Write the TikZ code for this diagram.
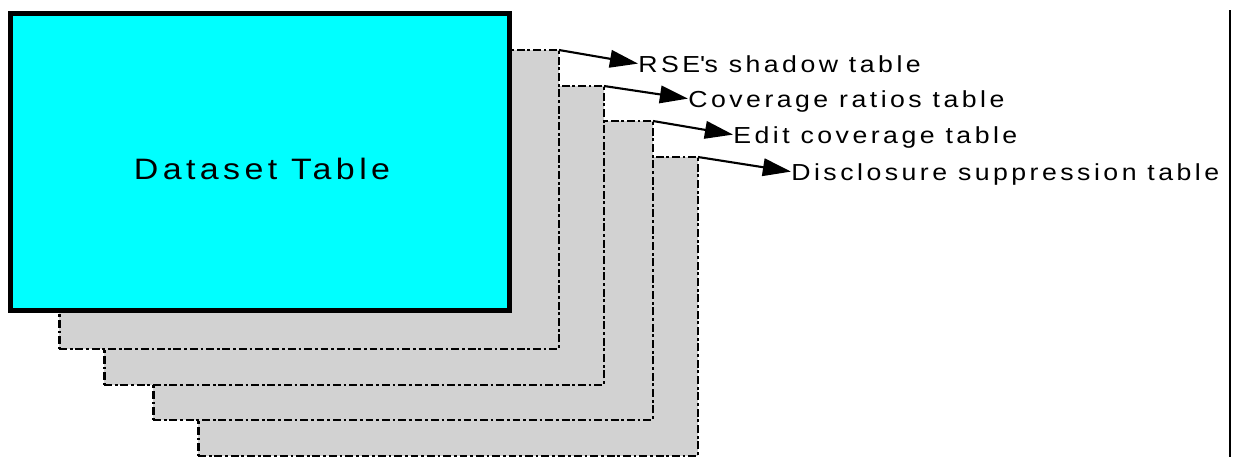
\documentclass[tikz,border=0pt]{standalone}
\usepackage{fontspec}
\usetikzlibrary{arrows.meta}
\newfontfamily\tablefont[FakeStretch=1.15,LetterSpace=15]{Liberation Sans}
\definecolor{datasetCyan}{HTML}{00FFFF}
\definecolor{shadowGray}{HTML}{D2D2D2}

\begin{document}
\begin{tikzpicture}[x=0.02cm,y=-0.02cm,
  shadowbox/.style={draw,fill=shadowGray,line width=1.6pt,dash pattern=on 4.5pt off 1.6pt on 1.6pt off 1.6pt,
    minimum width=10cm,minimum height=5.98cm,anchor=north east,inner sep=0pt,outer sep=0pt},
  tablelabel/.style={anchor=base west,inner sep=0pt,text depth=0pt,font=\tablefont\fontsize{13.2}{16}\selectfont},
  link/.style={-{Triangle[length=16pt,width=10pt]},line width=1.2pt}]
  \useasboundingbox (0,0) rectangle (1247,457);

  % Stacked shadow tables, back to front
  \node[shadowbox] (disclosureBox) at (698,157) {};
  \node[shadowbox] (editBox) at (653,121) {};
  \node[shadowbox] (coverageBox) at (604,86) {};
  \node[shadowbox] (rseBox) at (559,50) {};

  % Dataset table
  \node[draw,fill=datasetCyan,line width=2.8pt,minimum width=9.98cm,minimum height=5.94cm] (dataset) at (260,162) {};
  \node[font=\tablefont\fontsize{16.8}{20}\selectfont] (datasetLabel) at (262,169) {Dataset Table};

  % Table names
  \node[tablelabel] (rse) at (638,72) {RSE\textquotesingle s shadow table};
  \node[tablelabel] (coverage) at (688,107) {Coverage ratios table};
  \node[tablelabel] (edit) at (733,143) {Edit coverage table};
  \node[tablelabel] (disclosure) at (791,180) {Disclosure suppression table};

  \draw[link] (rseBox.north east) -- (rse.west);
  \draw[link] (coverageBox.north east) -- (coverage.west);
  \draw[link] (editBox.north east) -- (edit.west);
  \draw[link] (disclosureBox.north east) -- (disclosure.west);

  % Right margin line
  \draw[line width=0.9pt] (1230,10) -- (1230,457);
\end{tikzpicture}
\end{document}
